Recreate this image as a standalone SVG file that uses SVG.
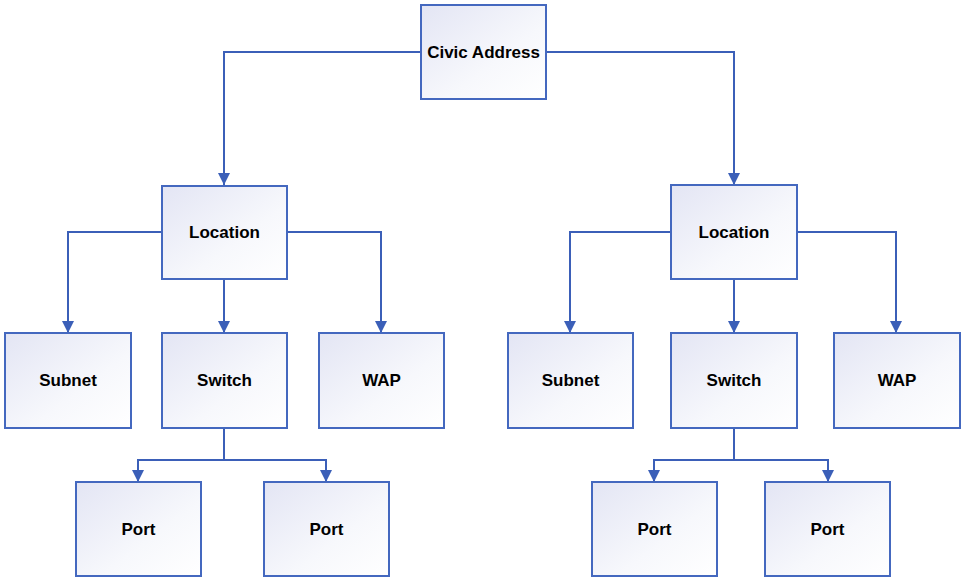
<svg xmlns="http://www.w3.org/2000/svg" width="964" height="581" viewBox="0 0 964 581">
<defs>
<linearGradient id="g" x1="0" y1="0" x2="1" y2="1">
<stop offset="0" stop-color="#e3e5f4"/>
<stop offset="0.6" stop-color="#f7f8fc"/>
<stop offset="1" stop-color="#ffffff"/>
</linearGradient>
<marker id="arr" markerUnits="userSpaceOnUse" markerWidth="14" markerHeight="14" viewBox="0 0 14 14" refX="7" refY="13" orient="auto-start-reverse">
<path d="M1,1 L13,1 L7,13 Z" fill="#3b5fb8" transform="rotate(-90 7 7) rotate(90 7 7)"/>
</marker>
<marker id="ad" markerUnits="userSpaceOnUse" markerWidth="14" markerHeight="14" viewBox="0 0 14 14" refX="13" refY="7" orient="auto">
<path d="M1,1 L13,7 L1,13 Z" fill="#3b5fb8"/>
</marker>
</defs>
<style>
.box{fill:url(#g);stroke:#4468bf;stroke-width:2}
.lbl{font-family:"Liberation Sans",Arial,sans-serif;font-weight:bold;font-size:17px;fill:#000;text-anchor:middle}
.c{fill:none;stroke:#3b5fb8;stroke-width:2}
.ca{fill:none;stroke:#3b5fb8;stroke-width:2;marker-end:url(#ad)}
</style>
<g id="connectors">
<polyline class="ca" points="421,52 224,52 224,185"/>
<polyline class="ca" points="546,52 734,52 734,185"/>
<polyline class="ca" points="162,232 68,232 68,333"/>
<polyline class="ca" points="224,279 224,333"/>
<polyline class="ca" points="287,232 381,232 381,333"/>
<polyline class="ca" points="671,232 570,232 570,333"/>
<polyline class="ca" points="734,279 734,333"/>
<polyline class="ca" points="797,232 896,232 896,333"/>
<polyline class="c" points="224,428 224,460"/>
<polyline class="ca" points="224,460 138,460 138,482"/>
<polyline class="ca" points="224,460 326,460 326,482"/>
<polyline class="c" points="734,428 734,460"/>
<polyline class="ca" points="734,460 654,460 654,482"/>
<polyline class="ca" points="734,460 828,460 828,482"/>
</g>
<g id="civic"><rect class="box" x="421" y="5" width="125" height="94"/><text class="lbl" x="483.5" y="58">Civic Address</text></g>
<g id="location1"><rect class="box" x="162" y="186" width="125" height="93"/><text class="lbl" x="224.5" y="238">Location</text></g>
<g id="location2"><rect class="box" x="671" y="185" width="126" height="94"/><text class="lbl" x="734" y="238">Location</text></g>
<g id="subnet1"><rect class="box" x="5" y="333" width="126" height="95"/><text class="lbl" x="68" y="386">Subnet</text></g>
<g id="switch1"><rect class="box" x="162" y="333" width="125" height="95"/><text class="lbl" x="224.5" y="386">Switch</text></g>
<g id="wap1"><rect class="box" x="319" y="333" width="125" height="95"/><text class="lbl" x="381.5" y="386">WAP</text></g>
<g id="subnet2"><rect class="box" x="508" y="333" width="125" height="95"/><text class="lbl" x="570.5" y="386">Subnet</text></g>
<g id="switch2"><rect class="box" x="671" y="333" width="126" height="95"/><text class="lbl" x="734" y="386">Switch</text></g>
<g id="wap2"><rect class="box" x="834" y="333" width="126" height="95"/><text class="lbl" x="897" y="386">WAP</text></g>
<g id="port1"><rect class="box" x="76" y="482" width="125" height="94"/><text class="lbl" x="138.5" y="535">Port</text></g>
<g id="port2"><rect class="box" x="264" y="482" width="125" height="94"/><text class="lbl" x="326.5" y="535">Port</text></g>
<g id="port3"><rect class="box" x="592" y="482" width="125" height="94"/><text class="lbl" x="654.5" y="535">Port</text></g>
<g id="port4"><rect class="box" x="765" y="482" width="125" height="94"/><text class="lbl" x="827.5" y="535">Port</text></g>
</svg>
